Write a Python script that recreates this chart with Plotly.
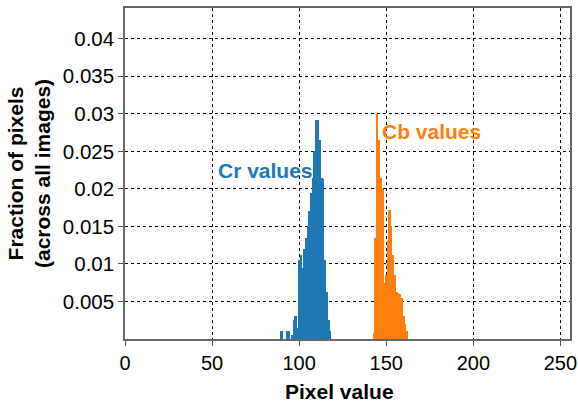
import plotly.graph_objects as go

# Histogram data (fraction of pixels per integer pixel value)
cr_bins = list(range(90, 119))
cr_frac = [0.001, 0.0, 0.0, 0.001, 0.001, 0.0, 0.0005, 0.0025, 0.003, 0.0015,
           0.0105, 0.0112, 0.0095, 0.012, 0.0135, 0.015, 0.017, 0.0195, 0.0215, 0.025,
           0.0292, 0.0292, 0.0265, 0.0215, 0.0213, 0.0105, 0.0062, 0.0025, 0.001]

cb_bins = list(range(143, 163))
cb_frac = [0.0008, 0.0135, 0.0300, 0.0265, 0.0215, 0.0200, 0.0075, 0.0085, 0.0130, 0.0172,
           0.0150, 0.0112, 0.0085, 0.0062, 0.0061, 0.0060, 0.0055, 0.0030, 0.0020, 0.0010]

x_ticks = [0, 50, 100, 150, 200, 250]
y_ticks = [0.005, 0.01, 0.015, 0.02, 0.025, 0.03, 0.035, 0.04]
y_labels = ["0.005", "0.01", "0.015", "0.02", "0.025", "0.03", "0.035", "0.04"]

BLUE = "#1f77b4"
ORANGE = "#ff7f0e"
FONT = "Liberation Sans, Arial, sans-serif"

fig = go.Figure()
fig.add_trace(go.Bar(x=cr_bins, y=cr_frac, width=1, marker=dict(color=BLUE, line=dict(width=0)),
                     name="Cr values", showlegend=False))
fig.add_trace(go.Bar(x=cb_bins, y=cb_frac, width=1, marker=dict(color=ORANGE, line=dict(width=0)),
                     name="Cb values", showlegend=False))

fig.add_annotation(x=80.5, y=0.0225, text="<b>Cr values</b>", showarrow=False,
                   font=dict(family=FONT, size=21, color=BLUE))
fig.add_annotation(x=176, y=0.0277, text="<b>Cb values</b>", showarrow=False,
                   font=dict(family=FONT, size=21, color=ORANGE))
# x-axis title as an annotation below the axis
fig.add_annotation(xref="paper", yref="paper", x=0.482, y=0, yanchor="middle", yshift=-52,
                   text="<b>Pixel value</b>", showarrow=False,
                   font=dict(family=FONT, size=21, color="black"))

fig.update_layout(
    width=578, height=402,
    margin=dict(l=125, r=8, t=8, b=63),
    paper_bgcolor="white", plot_bgcolor="white",
    bargap=0, barmode="overlay",
    font=dict(family=FONT, size=20, color="black"),
)
fig.update_xaxes(
    range=[0, 255.5], tickvals=x_ticks, ticks="outside", ticklen=5, tickcolor="#555",
    showgrid=True, gridcolor="black", griddash="dot", gridwidth=1,
    showline=True, linecolor="#666", linewidth=1.5, mirror=True, zeroline=False,
    tickfont=dict(size=20), automargin=False,
)
fig.update_yaxes(
    range=[0, 0.0441], tickvals=y_ticks, ticktext=y_labels, ticks="outside", ticklen=5, tickcolor="#555",
    showgrid=True, gridcolor="black", griddash="dot", gridwidth=1,
    showline=True, linecolor="#666", linewidth=1.5, mirror=True, zeroline=False,
    title=dict(text="<b>Fraction of pixels<br>(across all images)</b>", font=dict(size=21), standoff=6),
    tickfont=dict(size=20.5), automargin=False,
)

# remove the default page margin so the 578x402 figure fills the window exactly
fig.write_html("out.html",
               config={"displayModeBar": False},
               post_script="document.body.style.margin='0';document.body.style.overflow='hidden';")
